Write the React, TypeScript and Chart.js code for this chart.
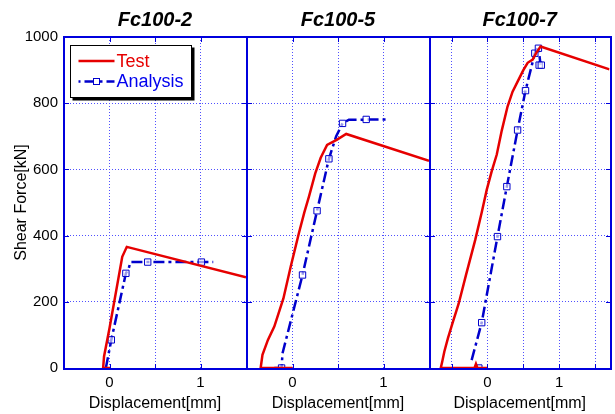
import { useEffect, useRef } from 'react';
import { Chart, registerables } from 'chart.js';

Chart.register(...registerables);

type P = [number, number];

// ---------- data ----------
const panelTitles = ['Fc100-2', 'Fc100-5', 'Fc100-7'];
const seriesLabels = ['Test', 'Analysis'];
const xMin = [-0.5, -0.5, -0.8];
const xMax = [1.5, 1.5, 1.7];
const xGridTicks = [-0.5, 0, 0.5, 1, 1.5];
const xLabelled = [0, 1];
const yMin = 0;
const yMax = 1000;
const yStep = 200;

const fc1002Test: P[] = [
  [0.01, 0], [-0.07, 0], [-0.06, 35], [0.0, 120], [0.14, 336], [0.19, 366], [1.5, 274],
];
const fc1002Analysis: P[] = [
  [-0.04, 0], [0.02, 85], [0.18, 286], [0.21, 300], [0.23, 320], [1.14, 320],
];
const fc1002Markers: P[] = [
  [0.02, 85], [0.18, 286], [0.42, 320], [1.01, 320],
];

const fc1005Test: P[] = [
  [0.0, 0], [-0.35, 0], [-0.33, 40], [-0.27, 85], [-0.2, 125], [-0.1, 210], [-0.02, 306],
  [0.07, 407], [0.13, 470], [0.18, 517], [0.25, 588], [0.31, 635], [0.38, 674],
  [0.49, 690], [0.59, 707], [1.5, 626],
];
const fc1005Analysis: P[] = [
  [-0.2, 0], [-0.12, 0], [-0.11, 44], [0.11, 281], [0.27, 475], [0.4, 632], [0.48, 700],
  [0.55, 739], [0.62, 750], [1.06, 751],
];
const fc1005Markers: P[] = [
  [-0.12, 0], [0.11, 281], [0.27, 475], [0.4, 632], [0.55, 739], [0.81, 751],
];

const fc1007Test: P[] = [
  [0.0, 0], [-0.14, 0], [-0.16, 12], [-0.18, 0], [-0.65, 0], [-0.63, 19], [-0.6, 50],
  [-0.55, 90], [-0.48, 140], [-0.4, 195], [-0.3, 280], [-0.17, 387], [-0.08, 470],
  [-0.01, 538], [0.06, 595], [0.13, 645], [0.2, 718], [0.28, 790], [0.35, 835],
  [0.42, 865], [0.5, 900], [0.56, 922], [0.63, 932], [0.68, 952], [0.74, 971], [1.7, 902],
];
const fc1007Analysis: P[] = [
  [-0.22, 24], [-0.08, 137], [0.14, 397], [0.27, 548], [0.42, 719], [0.53, 838],
  [0.66, 951], [0.71, 970], [0.74, 915],
];
const fc1007Markers: P[] = [
  [-0.12, 0], [-0.08, 137], [0.14, 397], [0.27, 548], [0.42, 719], [0.53, 838],
  [0.66, 951], [0.71, 966], [0.72, 915], [0.75, 915],
];

const testSeries = [fc1002Test, fc1005Test, fc1007Test];
const analysisSeries = [fc1002Analysis, fc1005Analysis, fc1007Analysis];
const markerSeries = [fc1002Markers, fc1005Markers, fc1007Markers];

// ---------- style ----------
const FONT = '"Liberation Sans", Arial, Helvetica, sans-serif';
const RED = '#e60000';
const BLUE = '#0000cc';
const BLUE_TEXT = '#0000ee';
const GRID = '#5050ff';
const FRAME = '#0000dd';
const padLeft = [0, 247, 430];
const padRight = [369, 186, 1];

const toPts = (a: P[]) => a.map(([x, y]) => ({ x, y }));

const framePlugin = {
  id: 'frame',
  afterDatasetsDraw(chart: any) {
    const { ctx, chartArea: a, scales } = chart;
    const l = Math.round(a.left);
    const r = Math.round(a.right) + 1;
    const t = Math.round(a.top);
    const b = Math.round(a.bottom) + 1;
    ctx.save();
    ctx.setLineDash([]);
    ctx.strokeStyle = FRAME;
    ctx.lineWidth = 2;
    ctx.strokeRect(l, t, r - l, b - t);
    const L = 5;
    ctx.lineWidth = 1;
    ctx.beginPath();
    const xs = scales.x;
    xs.ticks.forEach((tk: any) => {
      if (tk.value <= xs.min || tk.value >= xs.max) return;
      const px = Math.round(xs.getPixelForValue(tk.value)) + 0.5;
      ctx.moveTo(px, b); ctx.lineTo(px, b - L);
      ctx.moveTo(px, t); ctx.lineTo(px, t + L);
    });
    const ys = scales.y;
    ys.ticks.forEach((tk: any) => {
      if (tk.value <= ys.min || tk.value >= ys.max) return;
      const py = Math.round(ys.getPixelForValue(tk.value)) + 0.5;
      ctx.moveTo(l, py); ctx.lineTo(l + L, py);
      ctx.moveTo(r, py); ctx.lineTo(r - L, py);
    });
    ctx.stroke();
    ctx.restore();
  },
};

const legendPlugin = {
  id: 'boxLegend',
  afterDatasetsDraw(chart: any, _args: any, opts: any) {
    if (!opts || !opts.display) return;
    const { ctx, chartArea: a } = chart;
    const x = Math.round(a.left + 6) + 0.5;
    const y = Math.round(a.top + 8) + 0.5;
    const w = 121;
    const h = 52;
    ctx.save();
    ctx.fillStyle = '#000';
    ctx.fillRect(x + 2, y + 2, w + 1, h + 1);
    ctx.fillStyle = '#fff';
    ctx.fillRect(x, y, w, h);
    ctx.strokeStyle = '#000';
    ctx.lineWidth = 1;
    ctx.setLineDash([]);
    ctx.strokeRect(x, y, w, h);
    const items = chart.data.datasets.filter((d: any) => d.label);
    items.forEach((d: any, i: number) => {
      const cy = y + 15.5 + i * 20.5;
      ctx.save();
      ctx.strokeStyle = d.borderColor;
      ctx.lineWidth = d.borderWidth;
      ctx.setLineDash(d.borderDash || []);
      ctx.lineDashOffset = d.borderDash ? -6 : 0;
      ctx.beginPath();
      ctx.moveTo(x + 8, cy);
      ctx.lineTo(x + 44, cy);
      ctx.stroke();
      ctx.restore();
      if (d.legendMarker) {
        ctx.save();
        ctx.setLineDash([]);
        ctx.strokeStyle = d.borderColor;
        ctx.fillStyle = '#fff';
        ctx.lineWidth = 1;
        ctx.fillRect(x + 23, cy - 3, 6, 6);
        ctx.strokeRect(x + 23, cy - 3, 6, 6);
        ctx.restore();
      }
      ctx.fillStyle = d.textColor || d.borderColor;
      ctx.font = `18px ${FONT}`;
      ctx.textBaseline = 'middle';
      ctx.textAlign = 'left';
      ctx.fillText(d.label, x + 46, cy + 1);
    });
    ctx.restore();
  },
};

function makeConfig(i: number): any {
  const first = i === 0;
  return {
    type: 'scatter',
    data: {
      datasets: [
        {
          label: seriesLabels[0],
          data: toPts(testSeries[i]),
          showLine: true,
          borderColor: RED,
          textColor: RED,
          borderWidth: 2.5,
          pointRadius: 0,
          pointHoverRadius: 0,
          order: 0,
        },
        {
          label: seriesLabels[1],
          data: toPts(analysisSeries[i]),
          showLine: true,
          borderColor: BLUE,
          textColor: BLUE_TEXT,
          borderWidth: 2.5,
          borderDash: [11, 4, 3, 4],
          pointRadius: 0,
          pointHoverRadius: 0,
          legendMarker: true,
          order: 2,
        },
        {
          label: '',
          data: toPts(markerSeries[i]),
          showLine: false,
          pointStyle: 'rect',
          pointRadius: 4.5,
          pointHoverRadius: 4.5,
          borderColor: BLUE,
          borderWidth: 1,
          backgroundColor: 'rgba(255,255,255,0.6)',
          order: 1,
        },
      ],
    },
    options: {
      responsive: false,
      animation: false,
      events: [],
      layout: { padding: { left: padLeft[i], right: padRight[i], top: 0, bottom: 0 } },
      plugins: {
        legend: { display: false },
        tooltip: { enabled: false },
        title: {
          display: true,
          text: panelTitles[i],
          fullSize: false,
          color: '#000',
          font: { family: FONT, size: 20, weight: 'bold', style: 'italic', lineHeight: 1.2 },
          padding: { top: 8, bottom: 5 },
        },
        boxLegend: { display: first },
      },
      scales: {
        x: {
          type: 'linear',
          min: xMin[i],
          max: xMax[i],
          afterFit: (s: any) => { s.height = 46; },
          afterBuildTicks: (s: any) => { s.ticks = xGridTicks.map((v) => ({ value: v })); },
          ticks: {
            autoSkip: false,
            maxRotation: 0,
            padding: 6,
            color: '#000',
            font: { family: FONT, size: 15 },
            callback: (v: number) => (xLabelled.includes(v) ? String(v) : ''),
          },
          grid: { color: GRID, lineWidth: 1, drawTicks: false },
          border: { display: false, dash: [1, 2] },
          title: {
            display: true,
            text: 'Displacement[mm]',
            color: '#000',
            font: { family: FONT, size: 16 },
            padding: { top: 0, bottom: 1 },
          },
        },
        y: {
          type: 'linear',
          min: yMin,
          max: yMax,
          afterFit: (s: any) => { s.width = first ? 64 : 0; },
          ticks: {
            display: first,
            stepSize: yStep,
            padding: 6,
            color: '#000',
            font: { family: FONT, size: 15 },
            callback: (v: number) => String(v),
          },
          grid: { color: GRID, lineWidth: 1, drawTicks: false },
          border: { display: false, dash: [1, 2] },
          title: {
            display: first,
            text: 'Shear Force[kN]',
            color: '#000',
            font: { family: FONT, size: 16 },
            padding: { top: 12, bottom: 0 },
          },
        },
      },
    },
    plugins: [framePlugin, legendPlugin],
  };
}

export default function App() {
  const r0 = useRef<HTMLCanvasElement>(null);
  const r1 = useRef<HTMLCanvasElement>(null);
  const r2 = useRef<HTMLCanvasElement>(null);
  const refs = [r0, r1, r2];

  useEffect(() => {
    const charts = refs.map((r, i) => new Chart(r.current as HTMLCanvasElement, makeConfig(i)));
    return () => charts.forEach((c) => c.destroy());
  }, []);

  return (
    <div style={{ position: 'absolute', left: 0, top: 0, width: 615, height: 414, background: '#fff' }}>
      {refs.map((r, i) => (
        <canvas
          key={i}
          ref={r}
          width={615}
          height={414}
          style={{ position: 'absolute', left: 0, top: 0, width: 615, height: 414 }}
        />
      ))}
    </div>
  );
}
